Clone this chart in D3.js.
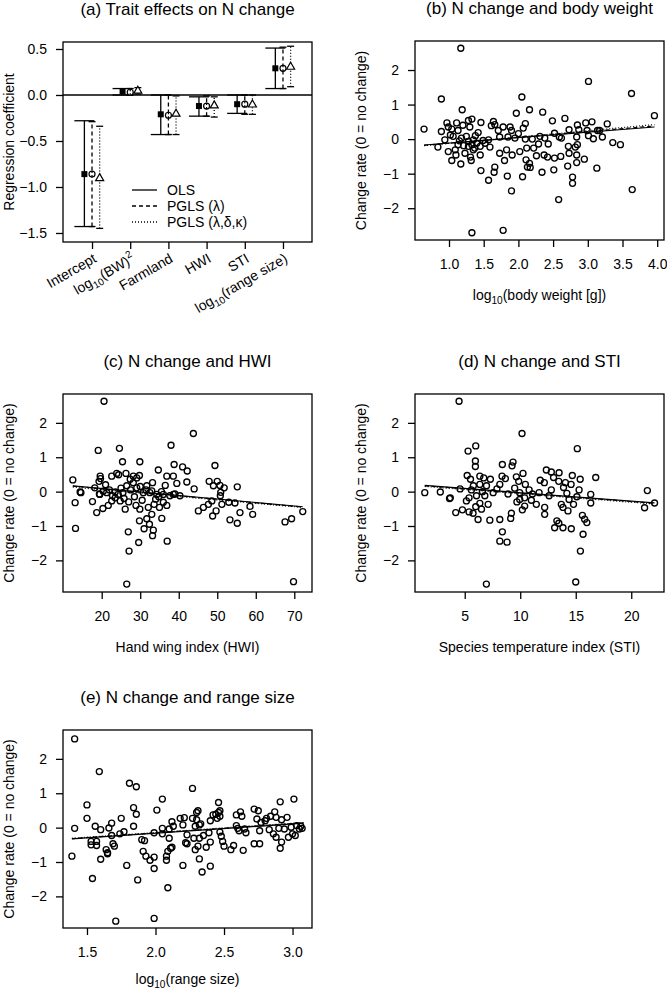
<!DOCTYPE html>
<html>
<head>
<meta charset="utf-8">
<script src="https://cdn.jsdelivr.net/npm/d3@7"></script>
<style>
  body { margin: 0; background: #fff; }
  svg text { font-family: "Liberation Sans", Arial, Helvetica, sans-serif; fill: #000; }
</style>
</head>
<body>
<div id="chart"></div>
<script>
// ---- panel (a): coefficients ----
var coefNames = ["Intercept", "BW", "Farmland", "HWI", "STI", "range"];
var olsEst = [-0.86, 0.04, -0.21, -0.12, -0.10, 0.29];
var olsLo  = [-1.43, 0.00, -0.43, -0.23, -0.20, 0.07];
var olsHi  = [-0.28, 0.07, 0.00, -0.02, 0.00, 0.51];
var pglsEst = [-0.86, 0.03, -0.22, -0.12, -0.10, 0.29];
var pglsLo  = [-1.43, 0.00, -0.43, -0.23, -0.21, 0.07];
var pglsHi  = [-0.29, 0.07, 0.00, -0.01, 0.00, 0.52];
var pdkEst = [-0.90, 0.05, -0.20, -0.11, -0.10, 0.31];
var pdkLo  = [-1.45, 0.01, -0.43, -0.24, -0.21, 0.09];
var pdkHi  = [-0.34, 0.08, -0.01, -0.02, 0.00, 0.53];
var coefTicks = [-1.5, -1.0, -0.5, 0.0, 0.5];
var legendLabels = ["OLS", "PGLS (λ)", "PGLS (λ,δ,κ)"];

// ---- panel (b): body weight ----
var bwPts = [[1.17,2.63],[3.01,1.67],[3.63,1.32],[0.89,1.16],[2.05,1.22],[1.19,0.85],[2.16,0.85],[1.97,0.75],[2.35,0.78],[3.96,0.68],[2.67,0.60],[2.49,0.53],[0.64,0.29],
[0.97,0.47],[1.11,0.47],[1.28,0.54],[1.33,0.58],[1.46,0.48],[1.64,0.51],[1.66,0.42],[1.61,0.39],[1.78,0.35],[1.88,0.35],[2.10,0.45],[2.07,0.32],[2.85,0.41],[2.97,0.47],[3.06,0.50],[3.28,0.44],[2.73,0.27],[2.87,0.27],[2.99,0.25],[3.17,0.25],
[0.89,0.22],[0.99,0.35],[1.04,0.29],[1.13,0.25],[1.30,0.35],[1.42,0.19],[1.71,0.25],[1.90,0.25],[2.00,0.16],[2.52,0.17],[2.62,0.03],[3.01,0.10],[3.14,0.25],[3.21,0.06],[3.08,0.01],
[0.94,-0.02],[1.06,0.08],[1.18,0.03],[1.25,0.08],[1.35,-0.02],[1.49,-0.04],[1.57,-0.02],[1.73,0.06],[1.85,0.06],[1.95,0.03],[2.10,0.00],[2.20,0.00],[2.31,0.08],[2.38,0.03],[2.59,0.06],[2.84,0.06],
[0.84,-0.23],[0.99,-0.36],[1.09,-0.31],[1.13,-0.16],[1.21,-0.19],[1.28,-0.21],[1.33,-0.16],[1.37,-0.26],[1.45,-0.21],[1.52,-0.12],[1.59,-0.23],[1.10,-0.46],[1.23,-0.41],[1.31,-0.52],[1.45,-0.46],[1.04,-0.62],[1.17,-0.72],[1.32,-0.62],
[1.73,-0.41],[1.83,-0.31],[1.91,-0.46],[1.80,-0.62],[2.02,-0.36],[2.12,-0.26],[2.22,-0.26],[2.29,-0.14],[2.43,-0.14],[2.26,-0.48],[2.37,-0.46],[2.42,-0.52],[2.52,-0.55],[2.61,-0.50],[2.72,-0.21],[2.73,-0.41],[2.82,-0.23],[2.85,-0.16],[2.84,-0.46],[2.95,-0.58],[2.71,-0.78],[2.84,-0.68],
[2.11,-0.60],[2.16,-0.70],[2.17,-0.82],[2.13,-0.81],[1.66,-0.81],[1.65,-0.96],[1.46,-0.91],[1.57,-1.19],[1.84,-1.07],[2.06,-1.09],[2.34,-0.96],[2.51,-0.89],[2.78,-1.10],[2.78,-1.28],[3.13,-0.84],[3.36,-0.10],[3.47,-0.16],[3.64,-1.46],[1.90,-1.50],[2.58,-1.75],[1.33,-2.71],[1.78,-2.64],
[1.28,-0.07],[1.40,-0.12],[1.35,-0.31],[1.20,0.40],[1.38,0.10],[1.15,-0.05],[1.02,0.12]];
var bwFitOLS = [[0.64,-0.17],[3.96,0.35]];
var bwFitLambda = [[0.64,-0.18],[3.96,0.38]];
var bwFitFull = [[0.64,-0.19],[3.96,0.42]];
var bwTicks = [1.0, 1.5, 2.0, 2.5, 3.0, 3.5, 4.0];

// ---- panel (c): hand wing index ----
var hwiPts = [[20.6,2.63],[43.8,1.69],[38.0,1.35],[19.1,1.20],[24.6,1.26],[25.4,0.87],[29.9,0.87],[34.7,0.63],[38.8,0.79],[41.0,0.72],[42.2,0.60],[49.4,0.76],
[12.5,0.34],[14.4,-0.01],[19.6,0.45],[19.3,0.30],[19.7,0.38],[22.6,0.45],[23.9,0.53],[24.4,0.49],[26.3,0.53],[27.4,0.36],[28.2,0.45],[29.1,0.40],[29.8,0.47],
[26.5,0.17],[28.2,0.26],[29.1,0.11],[31.7,0.17],[33.2,0.26],[36.9,0.45],[38.6,0.45],[36.5,0.18],[39.5,0.24],[42.1,0.28],[44.0,0.08],[47.9,0.30],[50.0,0.30],[49.0,0.17],[50.7,0.18],[51.8,0.11],[55.2,0.14],
[18.2,0.11],[20.4,0.01],[21.3,-0.03],[19.5,-0.08],[23.5,-0.01],[24.3,-0.08],[25.5,-0.03],[30.8,-0.03],[32.5,-0.03],[34.3,-0.08],[36.0,-0.08],[38.6,-0.08],
[14.6,-0.03],[13.1,-0.32],[13.2,-1.07],[17.6,-0.29],[18.7,-0.61],[20.3,-0.49],[19.4,-0.07],[21.7,-0.40],[22.6,-0.27],[23.5,-0.18],[24.8,-0.27],[26.1,-0.51],[26.9,-1.17],[27.1,-1.73],[26.5,-2.69],
[28.9,-0.40],[29.9,-0.51],[29.8,-0.85],[29.6,-1.48],[31.0,-1.08],[31.7,-0.79],[32.1,-0.46],[33.0,-0.66],[32.4,-0.95],[33.4,-1.12],[33.2,-1.28],[33.6,-0.37],[35.0,-0.46],[35.6,-0.78],[36.0,-0.31],[36.9,-0.40],[37.0,-1.44],[37.7,-0.12],[39.0,-0.07],[40.3,-0.12],
[45.1,-0.56],[46.4,-0.46],[47.7,-0.37],[48.6,-0.27],[48.8,-0.71],[49.7,-0.56],[51.2,-0.37],[50.8,-0.12],[50.9,-0.02],[53.0,-0.31],[53.3,-0.82],[54.6,-0.33],[55.2,-0.92],[55.9,-0.61],[58.5,-0.43],[59.2,-0.66],
[67.6,-0.88],[69.3,-0.79],[72.2,-0.58],[69.8,-2.62],
[21.0,0.20],[22.0,0.05],[25.0,0.10],[27.5,0.05],[28.5,-0.15],[30.0,0.15],[31.5,0.05],[33.0,0.02],[34.8,-0.15],[35.5,0.0],[22.8,-0.12],[25.8,-0.20],[27.0,-0.30],[30.5,-0.25],[34.0,-0.22]];
var hwiFitOLS = [[12.5,0.17],[72.2,-0.44]];
var hwiFitLambda = [[12.5,0.16],[72.2,-0.45]];
var hwiFitFull = [[12.5,0.13],[72.2,-0.46]];
var hwiTicks = [20, 30, 40, 50, 60, 70];

// ---- panel (d): species temperature index ----
var stiPts = [[4.49,2.63],[10.16,1.69],[5.99,1.33],[5.30,1.18],[15.14,1.25],[5.96,0.89],[5.96,0.73],[8.39,0.79],[9.35,0.86],[9.26,0.75],[10.25,0.53],[12.35,0.63],[12.8,0.57],[13.5,0.55],[14.69,0.47],[15.4,0.36],[16.8,0.41],
[5.22,0.47],[5.52,0.36],[6.36,0.45],[6.71,0.40],[7.31,0.36],[8.36,0.45],[8.66,0.38],[9.65,0.43],[9.86,0.30],[10.46,0.21],[11.8,0.33],[12.17,0.26],[13.0,0.41],[13.47,0.30],[14.07,0.26],[14.58,0.21],
[5.78,0.17],[6.36,0.21],[6.96,0.17],[8.16,0.21],[4.58,0.08],[1.40,-0.03],[2.80,-0.01],[3.70,-0.18],[16.35,-0.08],[21.45,0.03],
[3.63,-0.20],[4.19,-0.61],[4.79,-0.53],[5.15,-0.27],[5.39,-0.59],[5.75,-0.63],[5.99,-0.44],[6.2,-0.81],[6.36,-0.34],[6.51,-0.51],[7.11,-0.37],[7.26,-0.83],[6.95,-2.69],[8.16,-0.81],[8.16,-1.44],[8.39,-1.17],[8.81,-1.47],[9.14,-0.78],[9.2,-0.63],
[9.95,-0.23],[10.19,-0.53],[10.4,-0.42],[10.4,-0.18],[11.45,-0.37],[12.2,-0.46],[12.2,-0.66],[13.1,-1.05],[13.3,-0.85],[13.48,-0.92],[13.7,-0.37],[13.85,-1.05],[14.3,-0.56],[14.6,-1.08],[13.85,-0.46],[14.8,-0.37],
[15.0,-2.63],[15.42,-1.73],[15.6,-0.69],[15.66,-1.24],[15.8,-0.80],[16.0,-0.90],[16.35,-0.33],[21.2,-0.47],[22.1,-0.33],
[14.4,-0.23],[12.6,-0.12],[11.7,-0.03],[11.1,-0.07],[9.95,-0.03],[8.9,-0.07],[7.56,-0.03],[6.81,-0.12],[6.06,-0.12],[5.39,-0.18],
[5.6,0.05],[6.6,0.0],[7.9,0.08],[9.5,0.10],[10.8,0.05],[12.8,0.05],[13.9,0.12],[14.2,-0.05],[15.1,-0.15],[15.3,0.05],[9.7,-0.30],[11.0,-0.25]];
var stiFitOLS = [[1.4,0.18],[22.1,-0.33]];
var stiFitLambda = [[1.4,0.17],[22.1,-0.34]];
var stiFitFull = [[1.4,0.15],[22.1,-0.36]];
var stiTicks = [5, 10, 15, 20];

// ---- panel (e): range size ----
var rangePts = [[1.41,2.58],[1.59,1.63],[1.81,1.29],[1.86,1.19],[2.27,1.14],[2.05,0.83],[1.50,0.66],[1.84,0.58],[2.01,0.51],[1.86,0.39],[2.46,0.73],[3.01,0.83],[2.91,0.75],[1.50,0.27],
[1.41,-0.02],[1.56,0.04],[1.60,-0.06],[1.68,0.13],[1.66,-0.01],[1.75,0.27],[1.84,0.04],[1.77,-0.12],[1.74,-0.18],[1.68,-0.23],[1.53,-0.40],[1.57,-0.40],[1.53,-0.50],[1.57,-0.52],[1.64,-0.64],[1.65,-0.76],[1.65,-0.73],[1.69,-0.47],[1.70,-0.54],[1.60,-0.92],[1.39,-0.83],[1.54,-1.48],[1.79,-1.10],[1.87,-1.52],[1.71,-2.72],[1.99,-2.64],
[1.91,-0.69],[1.90,-0.35],[1.92,-0.38],[1.93,-0.83],[1.96,-0.95],[1.99,-0.86],[1.99,-1.19],[2.09,-1.75],[2.08,-0.83],[2.08,-0.95],[2.09,-0.69],[2.11,-0.60],[2.12,-0.57],[2.10,-0.31],[1.99,-0.15],[2.05,-0.02],[2.05,-0.18],[2.10,-0.04],[2.13,0.04],[2.12,0.17],[2.18,0.27],[2.21,0.29],[2.20,0.08],[2.27,0.27],[2.30,0.23],[2.30,0.44],[2.31,0.49],[2.32,0.08],[2.29,0.04],[2.33,0.11],
[2.23,-0.21],[2.28,-0.31],[2.32,-0.31],[2.35,-0.23],[2.39,-0.15],[2.22,-0.44],[2.23,-0.47],[2.31,-0.54],[2.29,-0.64],[2.37,-0.57],[2.40,-0.42],[2.20,-1.10],[2.32,-0.91],[2.34,-1.29],[2.40,-1.12],
[2.40,0.20],[2.42,0.37],[2.44,0.39],[2.46,0.44],[2.47,0.49],[2.47,0.33],[2.45,0.27],[2.47,-0.13],[2.48,-0.25],[2.49,-0.40],[2.50,-0.54],[2.55,-0.64],[2.57,-0.52],[2.59,0.37],[2.62,0.46],[2.63,0.33],[2.59,0.06],[2.60,-0.02],[2.61,-0.09],[2.65,-0.04],[2.66,-0.15],[2.64,-0.66],
[2.72,0.54],[2.75,0.49],[2.74,0.25],[2.77,0.15],[2.80,0.20],[2.76,-0.09],[2.72,-0.47],[2.76,-0.47],[2.81,0.27],[2.84,0.33],[2.87,0.46],[2.88,0.30],[2.92,0.23],[2.96,0.30],[2.83,-0.06],[2.86,-0.18],[2.88,-0.28],[2.90,-0.02],[2.92,-0.42],[2.91,-0.60],[2.94,-0.04],[2.97,-0.28],[2.99,0.01],[3.00,-0.18],[3.03,0.06],[3.06,0.04],[3.07,-0.02],[3.05,-0.04],[3.02,-0.23]];
var rangeFitOLS = [[1.39,-0.33],[3.08,0.13]];
var rangeFitLambda = [[1.39,-0.32],[3.08,0.14]];
var rangeFitFull = [[1.39,-0.31],[3.08,0.15]];
var rangeTicks = [1.5, 2.0, 2.5, 3.0];

var changeTicks = [-2, -1, 0, 1, 2];

var width = 667, height = 992;
var fs = 14;
var dashes = [null, "4,3", "1,2"];

var svg = d3.select("#chart").append("svg")
    .attr("width", width)
    .attr("height", height);

// writes log10(...) style labels with a subscript
function logLabel(sel, rest, sup) {
    sel.append("tspan").text("log");
    sel.append("tspan").attr("font-size", fs * 0.72).attr("dy", 4).text("10");
    sel.append("tspan").attr("dy", -4).text(rest);
    if (sup) sel.append("tspan").attr("font-size", fs * 0.72).attr("dy", -6).text(sup);
}

function frame(box, title) {
    svg.append("rect")
        .attr("x", box.x0).attr("y", box.y0)
        .attr("width", box.x1 - box.x0).attr("height", box.y1 - box.y0)
        .attr("fill", "none").attr("stroke", "#000").attr("stroke-width", 1.3);
    svg.append("text")
        .attr("x", (box.x0 + box.x1) / 2).attr("y", box.y0 - 27.5)
        .attr("text-anchor", "middle").attr("font-size", 17)
        .text(title);
}

function leftAxis(y, box, ticks, fmt) {
    var g = svg.append("g").attr("transform", `translate(${box.x0},0)`)
        .call(d3.axisLeft(y).tickValues(ticks).tickSize(7).tickPadding(9).tickFormat(fmt));
    g.select(".domain").remove();
    g.selectAll("line").attr("stroke-width", 1.3);
    g.selectAll("text").attr("font-size", fs).attr("font-family", null);
    return g;
}

function ylabel(box, label) {
    svg.append("text")
        .attr("transform", `translate(${box.x0 - 54},${(box.y0 + box.y1) / 2}) rotate(-90)`)
        .attr("text-anchor", "middle").attr("dy", "0.35em").attr("font-size", fs)
        .text(label);
}

// ---- draw panel (a) ----
var boxA = {x0: 63, x1: 312, y0: 42, y1: 242};
var xA = d3.scaleLinear().domain([0.24, 6.76]).range([boxA.x0, boxA.x1]);
var yA = d3.scaleLinear().domain([-1.598, 0.576]).range([boxA.y1, boxA.y0]);

svg.append("line")
    .attr("x1", boxA.x0).attr("x2", boxA.x1)
    .attr("y1", yA(0)).attr("y2", yA(0))
    .attr("stroke", "#000").attr("stroke-width", 1.3);

var models = [
    {est: olsEst, lo: olsLo, hi: olsHi, off: -0.2, cap: 10, dash: dashes[0]},
    {est: pglsEst, lo: pglsLo, hi: pglsHi, off: 0, cap: 3.5, dash: dashes[1]},
    {est: pdkEst, lo: pdkLo, hi: pdkHi, off: 0.2, cap: 3.5, dash: dashes[2]}
];

models.forEach(function(m, k) {
    var g = svg.append("g").attr("stroke", "#000").attr("stroke-width", 1.3).attr("fill", "none");
    coefNames.forEach(function(c, i) {
        var cx = xA(i + 1 + m.off);
        g.append("line").attr("x1", cx).attr("x2", cx)
            .attr("y1", yA(m.lo[i])).attr("y2", yA(m.hi[i]))
            .attr("stroke-dasharray", m.dash);
        [m.lo[i], m.hi[i]].forEach(function(v) {
            g.append("line").attr("x1", cx - m.cap).attr("x2", cx + m.cap)
                .attr("y1", yA(v)).attr("y2", yA(v));
        });
    });
});

// point symbols on top
coefNames.forEach(function(c, i) {
    svg.append("rect")
        .attr("x", xA(i + 1 - 0.2) - 3).attr("y", yA(olsEst[i]) - 3)
        .attr("width", 6).attr("height", 6).attr("fill", "#000");
    svg.append("circle")
        .attr("cx", xA(i + 1)).attr("cy", yA(pglsEst[i])).attr("r", 3)
        .attr("fill", "#fff").attr("stroke", "#000").attr("stroke-width", 1.2);
    var tx = xA(i + 1 + 0.2), ty = yA(pdkEst[i]);
    svg.append("path")
        .attr("d", `M${tx},${ty - 4.2}L${tx + 4},${ty + 2.8}L${tx - 4},${ty + 2.8}Z`)
        .attr("fill", "#fff").attr("stroke", "#000").attr("stroke-width", 1.2);
});
// the dashed bars show through the open circles
coefNames.forEach(function(c, i) {
    var cx = xA(i + 1);
    svg.append("line").attr("x1", cx).attr("x2", cx)
        .attr("y1", yA(pglsEst[i]) - 3).attr("y2", yA(pglsEst[i]) + 3)
        .attr("stroke", "#000").attr("stroke-width", 1.2).attr("stroke-dasharray", "2,2");
});

frame(boxA, "(a) Trait effects on N change");
leftAxis(yA, boxA, coefTicks, d3.format(".1f"));
ylabel(boxA, "Regression coefficient");

// bottom ticks + rotated labels
var gxA = svg.append("g").attr("transform", `translate(0,${boxA.y1})`)
    .call(d3.axisBottom(xA).tickValues(d3.range(1, 7)).tickSize(7).tickFormat(""));
gxA.select(".domain").remove();
gxA.selectAll("line").attr("stroke-width", 1.3);

coefNames.forEach(function(c, i) {
    var t = svg.append("text")
        .attr("transform", `translate(${xA(i + 1) + 3},${boxA.y1 + 15}) rotate(-30)`)
        .attr("text-anchor", "end").attr("dy", "0.35em").attr("font-size", fs);
    if (c === "BW") logLabel(t, "(BW)", "2");
    else if (c === "range") logLabel(t, "(range size)");
    else t.text(c);
});

// legend
legendLabels.forEach(function(lab, k) {
    var ly = 190 + k * 16;
    svg.append("line").attr("x1", 132).attr("x2", 157).attr("y1", ly).attr("y2", ly)
        .attr("stroke", "#000").attr("stroke-width", 1.3).attr("stroke-dasharray", dashes[k]);
    svg.append("text").attr("x", 167).attr("y", ly).attr("dy", "0.35em")
        .attr("font-size", fs).text(lab);
});

// ---- scatter panels ----
var yDomain = [-2.92, 2.84];

function scatter(opt) {
    var box = opt.box;
    var x = d3.scaleLinear().domain(opt.xDomain).range([box.x0, box.x1]);
    var y = d3.scaleLinear().domain(yDomain).range([box.y1, box.y0]);

    svg.append("g").selectAll("circle")
        .data(opt.pts)
        .join("circle")
        .attr("cx", d => x(d[0]))
        .attr("cy", d => y(d[1]))
        .attr("r", 3)
        .attr("fill", "none")
        .attr("stroke", "#000")
        .attr("stroke-width", 1.35);

    var line = d3.line().x(d => x(d[0])).y(d => y(d[1]));
    opt.fits.forEach(function(f, k) {
        svg.append("path").attr("d", line(f))
            .attr("fill", "none").attr("stroke", "#000").attr("stroke-width", 1.2)
            .attr("stroke-dasharray", dashes[k]);
    });

    frame(box, opt.title);
    leftAxis(y, box, changeTicks, d3.format("d"));
    ylabel(box, "Change rate (0 = no change)");

    var gx = svg.append("g").attr("transform", `translate(0,${box.y1})`)
        .call(d3.axisBottom(x).tickValues(opt.ticks).tickSize(7).tickPadding(12).tickFormat(opt.fmt));
    gx.select(".domain").remove();
    gx.selectAll("line").attr("stroke-width", 1.3);
    gx.selectAll("text").attr("font-size", fs).attr("font-family", null);

    var xt = svg.append("text")
        .attr("x", (box.x0 + box.x1) / 2).attr("y", box.y1 + opt.titleGap)
        .attr("text-anchor", "middle").attr("font-size", fs);
    if (opt.logTitle) logLabel(xt, opt.xlab);
    else xt.text(opt.xlab);
}

scatter({box: {x0: 415, x1: 664, y0: 41, y1: 240}, xDomain: [0.51, 4.098],
    pts: bwPts, fits: [bwFitOLS, bwFitLambda, bwFitFull], ticks: bwTicks, fmt: d3.format(".1f"),
    title: "(b) N change and body weight", xlab: "(body weight [g])", logTitle: true, titleGap: 60});

scatter({box: {x0: 63, x1: 312, y0: 394, y1: 592}, xDomain: [9.95, 74.6],
    pts: hwiPts, fits: [hwiFitOLS, hwiFitLambda, hwiFitFull], ticks: hwiTicks, fmt: d3.format("d"),
    title: "(c) N change and HWI", xlab: "Hand wing index (HWI)", titleGap: 60});

scatter({box: {x0: 415, x1: 664, y0: 394, y1: 592}, xDomain: [0.52, 22.95],
    pts: stiPts, fits: [stiFitOLS, stiFitLambda, stiFitFull], ticks: stiTicks, fmt: d3.format("d"),
    title: "(d) N change and STI", xlab: "Species temperature index (STI)", titleGap: 60});

scatter({box: {x0: 63, x1: 312, y0: 730, y1: 928}, xDomain: [1.325, 3.142],
    pts: rangePts, fits: [rangeFitOLS, rangeFitLambda, rangeFitFull], ticks: rangeTicks, fmt: d3.format(".1f"),
    title: "(e) N change and range size", xlab: "(range size)", logTitle: true, titleGap: 56});
</script>
</body>
</html>
